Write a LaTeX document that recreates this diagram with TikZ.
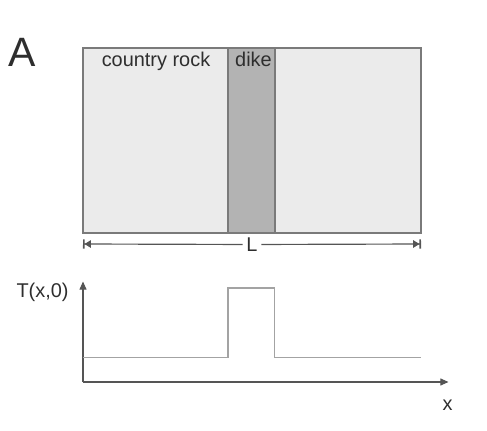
\documentclass[tikz,border=0pt]{standalone}
\usepackage{fontspec}
\setmainfont{Liberation Sans}
\usetikzlibrary{arrows.meta,positioning}
\definecolor{rockfill}{HTML}{EBEBEB}
\definecolor{dikefill}{HTML}{B3B3B3}
\definecolor{edgegray}{HTML}{7A7A7A}
\definecolor{profgray}{HTML}{A3A3A3}
\definecolor{axisgray}{HTML}{555555}
\definecolor{labelgray}{HTML}{2E2E2E}
\begin{document}
\begin{tikzpicture}[
		x=0.03cm, y=-0.03cm, % pixel-like grid, y running down
		every node/.style={font=\fontsize{17}{20}\selectfont, text=labelgray, inner sep=1pt},
		block/.style={draw=edgegray, line width=1.1pt},
		axis/.style={draw=axisgray, line width=1pt, -{Triangle[length=7pt,width=6pt]}},
		profile/.style={draw=profgray, line width=1.2pt},
		dimline/.style={draw=axisgray, line width=1pt, -{Triangle[length=5.5pt,width=6.5pt]Bar[width=8pt,line width=1.3pt]}}
		]
		\useasboundingbox (0,0) rectangle (487,431);
		% Panel letter
		\node[anchor=base, font=\fontsize{35}{40}\selectfont] (panel) at (22.5,67) {A};
		% Country rock and dike
		\draw[block, fill=rockfill] (83,48) rectangle (421,233);
		\draw[block, fill=dikefill] (228,48) rectangle (275,233);
		\node[anchor=base] (rock) at (156,66.7) {country rock};
		\node[anchor=base] (dike) at (253.5,66.7) {dike};
		% Width L
		\coordinate (lend) at (83,244);
		\coordinate (rend) at (421,244);
		\node[inner sep=3pt] (width) at (252,244.5) {L};
		\draw[dimline] (width) -- (lend);
		\draw[dimline] (width) -- (rend);
		% Axes
		\coordinate (origin) at (83,382);
		\coordinate (ytop) at (83,281.5);
		\coordinate (xend) at (448.5,382);
		\draw[axis] (origin) -- (ytop);
		\draw[axis] (origin) -- (xend);
		\node[anchor=base] (tlabel) at (42.5,297.3) {T(x,0)};
		\node[anchor=base] (xlabel) at (447.7,410) {x};
		% Initial temperature profile
		\draw[profile] (83,357.5) -- (228,357.5) -- (228,288) -- (274.5,288) -- (274.5,357.5) -- (421,357.5);
	\end{tikzpicture}
\end{document}
